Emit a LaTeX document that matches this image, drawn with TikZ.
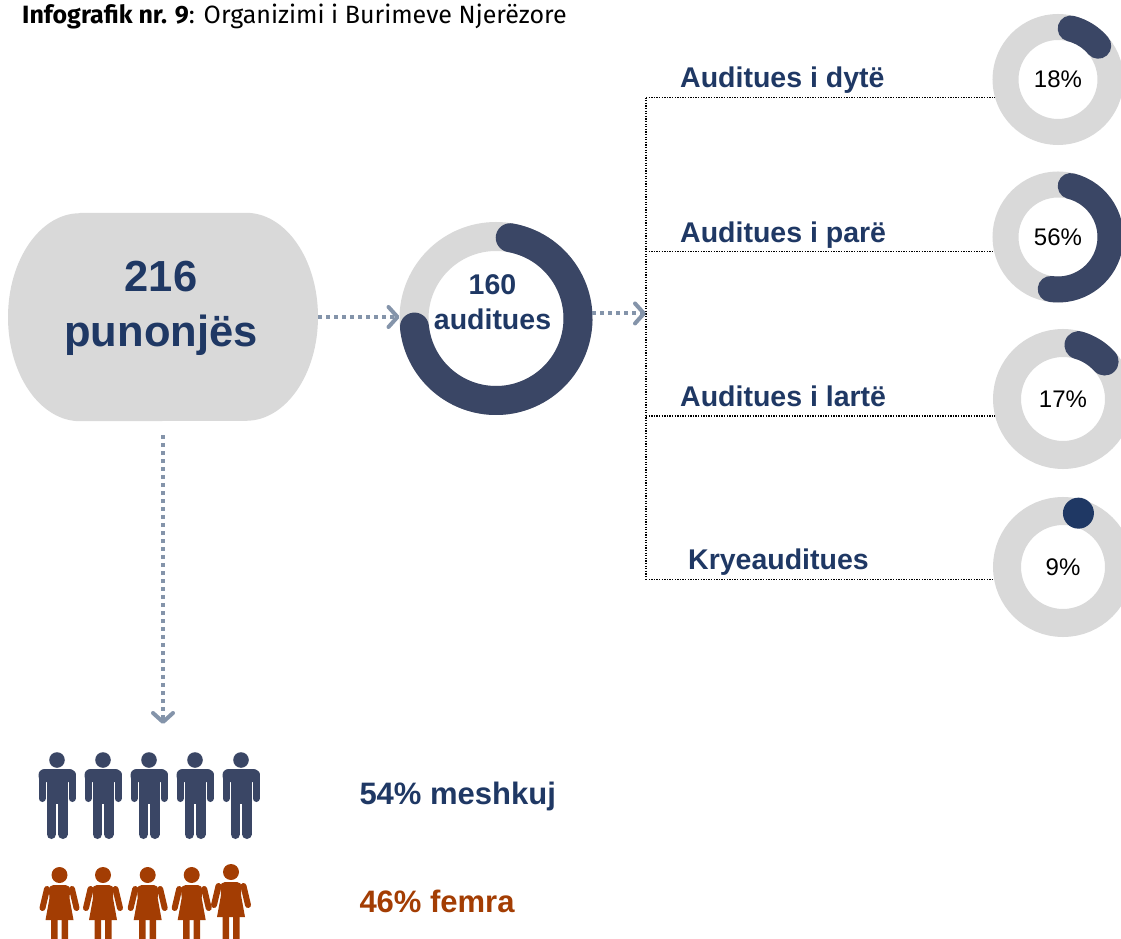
\documentclass[tikz,border=0pt]{standalone}
\usepackage{fontspec}
\setmainfont{Liberation Sans}
\newfontfamily\firafont{Fira Sans}
\usepackage{tikz}
\usetikzlibrary{arrows.meta}
\usepackage{xcolor}

\definecolor{navy}{RGB}{31,56,100}
\definecolor{slate}{RGB}{58,70,101}
\definecolor{ringgrey}{RGB}{217,217,217}
\definecolor{arrowgrey}{RGB}{132,148,170}
\definecolor{rust}{RGB}{163,61,3}

\tikzset{
  flow/.style={draw=arrowgrey, line width=4pt, dash pattern=on 4pt off 4pt,
    -{Straight Barb[length=9pt,width=20pt,round]}},
  tree/.style={draw=black, line width=1.3pt, dash pattern=on 1.3pt off 1.3pt},
  ring/.style={circle, inner sep=0pt, outer sep=0pt, minimum size=#1},
  track/.style={draw=ringgrey, line width=#1},
  share/.style={draw=slate, line width=#1, line cap=round},
  grade/.style={anchor=base west, inner sep=0pt, text=navy,
    font=\bfseries\fontsize{28.5}{34}\selectfont},
  count/.style={align=center, inner sep=0pt, text=navy,
    font=\bfseries\fontsize{28.5}{35}\selectfont},
  pct/.style={inner sep=0pt, font=\fontsize{24}{28}\selectfont},
  man/.pic={
    \fill (0,0) circle[radius=7.8];
    \fill[rounded corners=6pt] (-18.5,-22) -- (-18.5,-9) -- (18.5,-9) -- (18.5,-22) -- cycle;
    \draw[line width=7pt, line cap=round] (-15,-14) -- (-15,-38.5) (15,-14) -- (15,-38.5);
    \fill (-10.5,-12) rectangle (10.5,-44);
    \draw[line width=9.5pt, line cap=round] (-5.75,-40) -- (-5.75,-74.25) (5.75,-40) -- (5.75,-74.25);
  },
  woman/.pic={
    \fill (0,0) circle[radius=8];
    \fill (-14,-45) -- (-10,-23) [rounded corners=5pt] -- (-11,-10) -- (11,-10) [sharp corners] -- (10,-23) -- (14,-45) -- cycle;
    \draw[line width=6pt, line cap=round] (-12.5,-14) -- (-17,-33) (12.5,-14) -- (17,-33);
    \fill (-8.5,-44) rectangle (-2,-70) (2,-44) rectangle (8.5,-70);
  },
}

\begin{document}
\begin{tikzpicture}[x=1pt, y=1pt]
  \useasboundingbox (0,0) rectangle (1121,938);

  \node[anchor=base west, inner sep=0pt, font=\firafont\fontsize{25}{29}\selectfont] (title) at (22,914)
    {\textbf{Infografik nr. 9}: Organizimi i Burimeve Njerëzore};

  % total staff
  \node[inner sep=0pt, minimum width=310pt, minimum height=208pt] (staff) at (163,621) {};
  \fill[ringgrey] ([xshift=-83pt]staff.north) -- ([xshift=83pt]staff.north)
    arc[start angle=90, end angle=-90, x radius=72, y radius=104]
    -- ([xshift=-83pt]staff.south)
    arc[start angle=270, end angle=90, x radius=72, y radius=104] -- cycle;
  \node[count, font=\bfseries\fontsize{43.5}{55}\selectfont] (staffcount) at (161,629.7) {216\\punonjës};

  % auditors
  \node[ring=193pt] (auditors) at (496,619.5) {};
  \draw[track=29pt] (auditors.center) circle[radius=82];
  \draw[share=29pt] ([shift={(80:82)}]auditors.center) arc[start angle=80, end angle=-174, radius=82];
  \node[count] (auditorcount) at (492.5,635.7) {160\\auditues};

  % grades
  \node[ring=131pt] (r1) at (1058,858.5) {};
  \node[ring=131pt] (r2) at (1058,701) {};
  \node[ring=140pt] (r3) at (1063,539) {};
  \node[ring=140pt] (r4) at (1063,371) {};

  \draw[track=26pt] (r1.center) circle[radius=52.5];
  \draw[share=26pt] ([shift={(76:52.5)}]r1.center) arc[start angle=76, end angle=40, radius=52.5];
  \draw[track=26pt] (r2.center) circle[radius=52.5];
  \draw[share=26pt] ([shift={(76:52.5)}]r2.center) arc[start angle=76, end angle=-98, radius=52.5];
  \draw[track=28pt] (r3.center) circle[radius=56];
  \draw[share=28pt] ([shift={(74:56)}]r3.center) arc[start angle=74, end angle=42, radius=56];
  \draw[track=28pt] (r4.center) circle[radius=56];
  \fill[navy] ([shift={(74:56)}]r4.center) circle[radius=15.5];

  \node[pct] (p1) at (r1.center) {18\%};
  \node[pct] (p2) at (r2.center) {56\%};
  \node[pct] (p3) at (r3.center) {17\%};
  \node[pct] (p4) at (r4.center) {9\%};

  \node[grade] (l1) at (680,850.7) {Auditues i dytë};
  \node[grade] (l2) at (680,695) {Auditues i parë};
  \node[grade] (l3) at (680,531) {Auditues i lartë};
  \node[grade] (l4) at (688,369) {Kryeauditues};

  \coordinate (trunk) at (646,0);
  \draw[tree] (trunk |- r1.196) -- (trunk |- r4.190);
  \draw[tree] (trunk |- r1.196) -- (r1.196);
  \draw[tree] (trunk |- r2.193) -- (r2.193);
  \draw[tree] (trunk |- r3.194) -- (r3.194);
  \draw[tree] (trunk |- r4.190) -- (r4.190);

  % arrows
  \coordinate (crowd) at (163,214);
  \draw[flow] (staff.east) -- (staff.east -| auditors.west);
  \draw[flow] (auditors.3) -- (auditors.3 -| trunk);
  \draw[flow] ([yshift=-14pt]staff.south) -- (crowd);

  % people
  \pic[slate] at (57,178) {man};
  \pic[slate] at (103,178) {man};
  \pic[slate] at (149,178) {man};
  \pic[slate] at (195,178) {man};
  \pic[slate] at (241,178) {man};
  \pic[rust] at (59.5,63) {woman};
  \pic[rust] at (103,63) {woman};
  \pic[rust] at (147.7,63) {woman};
  \pic[rust] at (191.7,63) {woman};
  \pic[rust] at (231,66) {woman};

  \node[grade, font=\bfseries\fontsize{31}{36}\selectfont] (menshare) at (359.3,133.7) {54\% meshkuj};
  \node[grade, text=rust, font=\bfseries\fontsize{31}{36}\selectfont] (womenshare) at (359.3,25.3) {46\% femra};
\end{tikzpicture}
\end{document}
